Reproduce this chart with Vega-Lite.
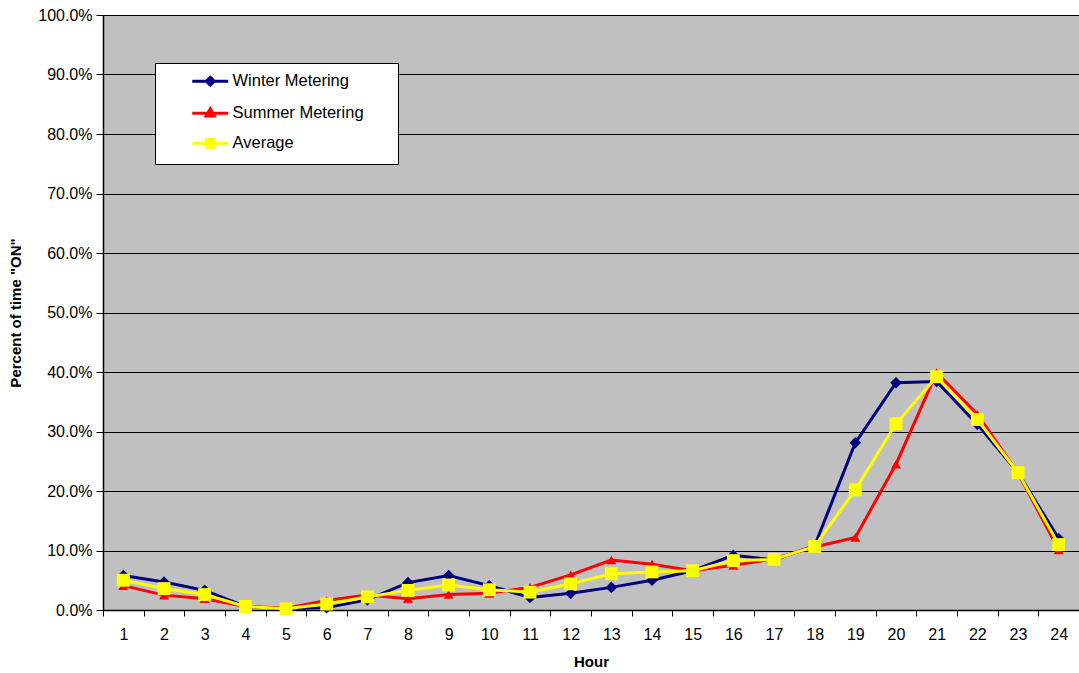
{
  "$schema": "https://vega.github.io/schema/vega-lite/v6.json",
  "autosize": {"type": "none"},
  "padding": {"left": 103, "top": 15, "right": 0, "bottom": 63},
  "width": 976,
  "height": 595,
  "background": "white",
  "config": {
    "font": "Liberation Sans",
    "view": {"fill": "#C0C0C0", "stroke": null},
    "axis": {
      "labelFont": "Liberation Sans",
      "labelFontSize": 16,
      "labelColor": "black",
      "titleFont": "Liberation Sans",
      "titleFontSize": 15,
      "titleFontWeight": "bold",
      "titleColor": "black",
      "domainColor": "black",
      "domainWidth": 1.5,
      "tickColor": "black",
      "tickWidth": 1
    }
  },
  "data": {
    "values": [
      {"hour": 1, "series": "Winter Metering", "pct": 0.058},
      {"hour": 2, "series": "Winter Metering", "pct": 0.047},
      {"hour": 3, "series": "Winter Metering", "pct": 0.033},
      {"hour": 4, "series": "Winter Metering", "pct": 0.006},
      {"hour": 5, "series": "Winter Metering", "pct": 0.002},
      {"hour": 6, "series": "Winter Metering", "pct": 0.004},
      {"hour": 7, "series": "Winter Metering", "pct": 0.017},
      {"hour": 8, "series": "Winter Metering", "pct": 0.046},
      {"hour": 9, "series": "Winter Metering", "pct": 0.058},
      {"hour": 10, "series": "Winter Metering", "pct": 0.041},
      {"hour": 11, "series": "Winter Metering", "pct": 0.021},
      {"hour": 12, "series": "Winter Metering", "pct": 0.028},
      {"hour": 13, "series": "Winter Metering", "pct": 0.038},
      {"hour": 14, "series": "Winter Metering", "pct": 0.050},
      {"hour": 15, "series": "Winter Metering", "pct": 0.066},
      {"hour": 16, "series": "Winter Metering", "pct": 0.092},
      {"hour": 17, "series": "Winter Metering", "pct": 0.084},
      {"hour": 18, "series": "Winter Metering", "pct": 0.108},
      {"hour": 19, "series": "Winter Metering", "pct": 0.281},
      {"hour": 20, "series": "Winter Metering", "pct": 0.382},
      {"hour": 21, "series": "Winter Metering", "pct": 0.384},
      {"hour": 22, "series": "Winter Metering", "pct": 0.312},
      {"hour": 23, "series": "Winter Metering", "pct": 0.231},
      {"hour": 24, "series": "Winter Metering", "pct": 0.120},
      {"hour": 1, "series": "Summer Metering", "pct": 0.041},
      {"hour": 2, "series": "Summer Metering", "pct": 0.025},
      {"hour": 3, "series": "Summer Metering", "pct": 0.019},
      {"hour": 4, "series": "Summer Metering", "pct": 0.006},
      {"hour": 5, "series": "Summer Metering", "pct": 0.003},
      {"hour": 6, "series": "Summer Metering", "pct": 0.016},
      {"hour": 7, "series": "Summer Metering", "pct": 0.025},
      {"hour": 8, "series": "Summer Metering", "pct": 0.019},
      {"hour": 9, "series": "Summer Metering", "pct": 0.026},
      {"hour": 10, "series": "Summer Metering", "pct": 0.028},
      {"hour": 11, "series": "Summer Metering", "pct": 0.038},
      {"hour": 12, "series": "Summer Metering", "pct": 0.059},
      {"hour": 13, "series": "Summer Metering", "pct": 0.084},
      {"hour": 14, "series": "Summer Metering", "pct": 0.077},
      {"hour": 15, "series": "Summer Metering", "pct": 0.066},
      {"hour": 16, "series": "Summer Metering", "pct": 0.075},
      {"hour": 17, "series": "Summer Metering", "pct": 0.086},
      {"hour": 18, "series": "Summer Metering", "pct": 0.106},
      {"hour": 19, "series": "Summer Metering", "pct": 0.122},
      {"hour": 20, "series": "Summer Metering", "pct": 0.245},
      {"hour": 21, "series": "Summer Metering", "pct": 0.399},
      {"hour": 22, "series": "Summer Metering", "pct": 0.329},
      {"hour": 23, "series": "Summer Metering", "pct": 0.230},
      {"hour": 24, "series": "Summer Metering", "pct": 0.101},
      {"hour": 1, "series": "Average", "pct": 0.050},
      {"hour": 2, "series": "Average", "pct": 0.036},
      {"hour": 3, "series": "Average", "pct": 0.026},
      {"hour": 4, "series": "Average", "pct": 0.006},
      {"hour": 5, "series": "Average", "pct": 0.002},
      {"hour": 6, "series": "Average", "pct": 0.010},
      {"hour": 7, "series": "Average", "pct": 0.022},
      {"hour": 8, "series": "Average", "pct": 0.033},
      {"hour": 9, "series": "Average", "pct": 0.042},
      {"hour": 10, "series": "Average", "pct": 0.034},
      {"hour": 11, "series": "Average", "pct": 0.030},
      {"hour": 12, "series": "Average", "pct": 0.044},
      {"hour": 13, "series": "Average", "pct": 0.061},
      {"hour": 14, "series": "Average", "pct": 0.064},
      {"hour": 15, "series": "Average", "pct": 0.066},
      {"hour": 16, "series": "Average", "pct": 0.083},
      {"hour": 17, "series": "Average", "pct": 0.085},
      {"hour": 18, "series": "Average", "pct": 0.107},
      {"hour": 19, "series": "Average", "pct": 0.202},
      {"hour": 20, "series": "Average", "pct": 0.313},
      {"hour": 21, "series": "Average", "pct": 0.392},
      {"hour": 22, "series": "Average", "pct": 0.320},
      {"hour": 23, "series": "Average", "pct": 0.231},
      {"hour": 24, "series": "Average", "pct": 0.110}
    ]
  },
  "encoding": {
    "x": {
      "field": "hour",
      "type": "ordinal",
      "scale": {"type": "band", "paddingInner": 0, "paddingOuter": 0},
      "axis": {
        "title": "Hour",
        "labelAngle": 0,
        "tickBand": "extent",
        "tickSize": 6,
        "labelPadding": 10,
        "titlePadding": 12,
        "grid": false
      }
    },
    "y": {
      "field": "pct",
      "type": "quantitative",
      "scale": {"domain": [0, 1], "nice": false},
      "axis": {
        "title": "Percent of time \"ON\"",
        "format": ".1%",
        "values": [0, 0.1, 0.2, 0.3, 0.4, 0.5, 0.6, 0.7, 0.8, 0.9, 1],
        "grid": true,
        "gridColor": "black",
        "gridWidth": 1,
        "gridOpacity": 1,
        "tickSize": 7,
        "labelPadding": 4,
        "titlePadding": 14
      }
    }
  },
  "layer": [
    {
      "encoding": {
        "color": {
          "field": "series",
          "type": "nominal",
          "scale": {
            "domain": ["Winter Metering", "Summer Metering", "Average"],
            "range": ["#000080", "#FF0000", "#FFFF00"]
          },
          "legend": null
        }
      },
      "layer": [
        {
          "transform": [{"filter": "datum.series === 'Winter Metering'"}],
          "mark": {"type": "line", "strokeWidth": 3}
        },
        {
          "transform": [{"filter": "datum.series === 'Winter Metering'"}],
          "mark": {"type": "point", "shape": "diamond", "filled": true, "opacity": 1, "size": 135}
        },
        {
          "transform": [{"filter": "datum.series === 'Summer Metering'"}],
          "mark": {"type": "line", "strokeWidth": 3}
        },
        {
          "transform": [{"filter": "datum.series === 'Summer Metering'"}],
          "mark": {"type": "point", "shape": "triangle-up", "filled": true, "opacity": 1, "size": 100}
        },
        {
          "transform": [{"filter": "datum.series === 'Average'"}],
          "mark": {"type": "line", "strokeWidth": 3}
        },
        {
          "transform": [{"filter": "datum.series === 'Average'"}],
          "mark": {"type": "point", "shape": "square", "filled": true, "opacity": 1, "size": 165}
        }
      ]
    },
    {
      "transform": [{"filter": "datum.pct < 0"}],
      "mark": {"type": "point", "filled": true, "opacity": 1},
      "encoding": {
        "fill": {
          "field": "series",
          "type": "nominal",
          "scale": {
            "domain": ["Winter Metering", "Summer Metering", "Average"],
            "range": ["#000080", "#FF0000", "#FFFF00"]
          },
          "legend": {
            "title": null,
            "orient": "none",
            "legendX": 52,
            "legendY": 48,
            "fillColor": "white",
            "strokeColor": "black",
            "padding": 10,
            "symbolSize": 64,
            "symbolStrokeWidth": 3,
            "symbolOffset": 37,
            "labelOffset": 14,
            "labelFontSize": 16.5,
            "labelFont": "Liberation Sans",
            "labelColor": "black",
            "labelLimit": 400,
            "labelExpr": "datum.label + '\u2800\u2800'",
            "rowPadding": 10
          }
        },
        "stroke": {
          "field": "series",
          "type": "nominal",
          "scale": {
            "domain": ["Winter Metering", "Summer Metering", "Average"],
            "range": ["#000080", "#FF0000", "#FFFF00"]
          },
          "legend": {
            "title": null,
            "orient": "none",
            "legendX": 52,
            "legendY": 48
          }
        },
        "shape": {
          "field": "series",
          "type": "nominal",
          "scale": {
            "domain": ["Winter Metering", "Summer Metering", "Average"],
            "range": [
              "M-4.5,0L4.5,0M0,-1L1,0L0,1L-1,0Z",
              "M-4.5,0L4.5,0M0,-1.1L1,0.7L-1,0.7Z",
              "M-4.5,0L4.5,0M-1,-1L1,-1L1,1L-1,1Z"
            ]
          },
          "legend": {
            "title": null,
            "orient": "none",
            "legendX": 52,
            "legendY": 48
          }
        }
      }
    }
  ],
  "resolve": {"scale": {"fill": "independent", "stroke": "independent", "shape": "independent"}}
}
